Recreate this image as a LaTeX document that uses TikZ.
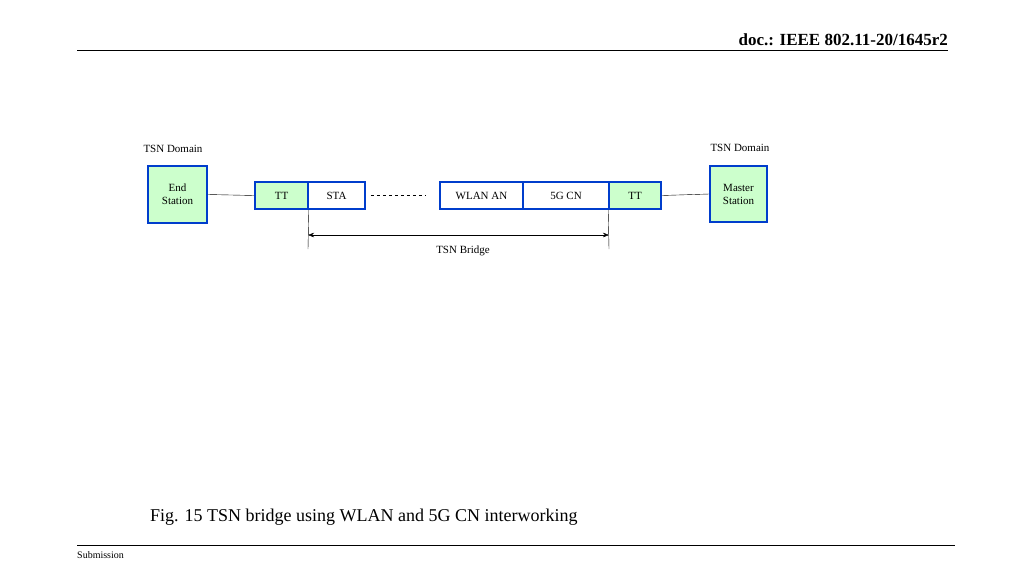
\documentclass[tikz,border=0pt]{standalone}
\usepackage{fontspec}
\setmainfont{Liberation Serif}
\usetikzlibrary{arrows.meta}
\begin{document}
\begin{tikzpicture}[x=1pt,y=-1pt,
  box/.style={draw=blue!70!cyan!80!black,line width=1.6pt,fill=#1,inner sep=0pt,font=\fontsize{11}{13}\selectfont,align=center},
  box/.default=white,
  lbl/.style={font=\fontsize{11}{13}\selectfont,inner sep=0pt}]
\useasboundingbox (0,0) rectangle (1024,576);
\definecolor{lg}{RGB}{204,255,204}
\node[lbl,font=\bfseries\fontsize{17}{20}\selectfont,anchor=east] (hdr) at (948,40) {doc.: IEEE 802.11-20/1645r2};
\draw[line width=0.8pt] (77,50) -- (948,50);
\draw[line width=0.8pt] (77,545) -- (955,545);
\node[lbl,font=\fontsize{10}{12}\selectfont,anchor=west] (sub) at (77,555) {Submission};
\node[lbl,font=\fontsize{18}{22}\selectfont,anchor=west] (cap) at (150,517) {Fig. 15 TSN bridge using WLAN and 5G CN interworking};
\node[lbl] (d1) at (173,149) {TSN Domain};
\node[lbl] (d2) at (740,148) {TSN Domain};
\node[box=lg,minimum width=59pt,minimum height=57pt] (es) at (177.5,194.5) {End\\Station};
\node[box=lg,minimum width=57pt,minimum height=56pt] (ms) at (738.5,194) {Master\\Station};
\node[box=lg,minimum width=53pt,minimum height=27pt] (tt1) at (281.5,195.5) {TT};
\node[box,minimum width=57pt,minimum height=27pt] (sta) at (336.5,195.5) {STA};
\node[box,minimum width=83pt,minimum height=27pt] (wl) at (481.5,195.5) {WLAN AN};
\node[box,minimum width=86pt,minimum height=27pt] (cn) at (566,195.5) {5G CN};
\node[box=lg,minimum width=52pt,minimum height=27pt] (tt2) at (635,195.5) {TT};
\draw (es.east) -- (tt1.west);
\draw (tt2.east) -- (ms.west);
\draw[dashed] ([xshift=5pt]sta.east) -- ([xshift=-13pt]wl.west);
\coordinate (b1) at (308,249);
\coordinate (b2) at (609,249);
\draw (tt1.south east) -- (b1);
\draw (tt2.south west) -- (b2);
\draw[{Stealth[length=6pt]}-{Stealth[length=6pt]}] (308,235) -- (609,235);
\node[lbl] (br) at (463,251) {TSN Bridge};
\end{tikzpicture}
\end{document}
